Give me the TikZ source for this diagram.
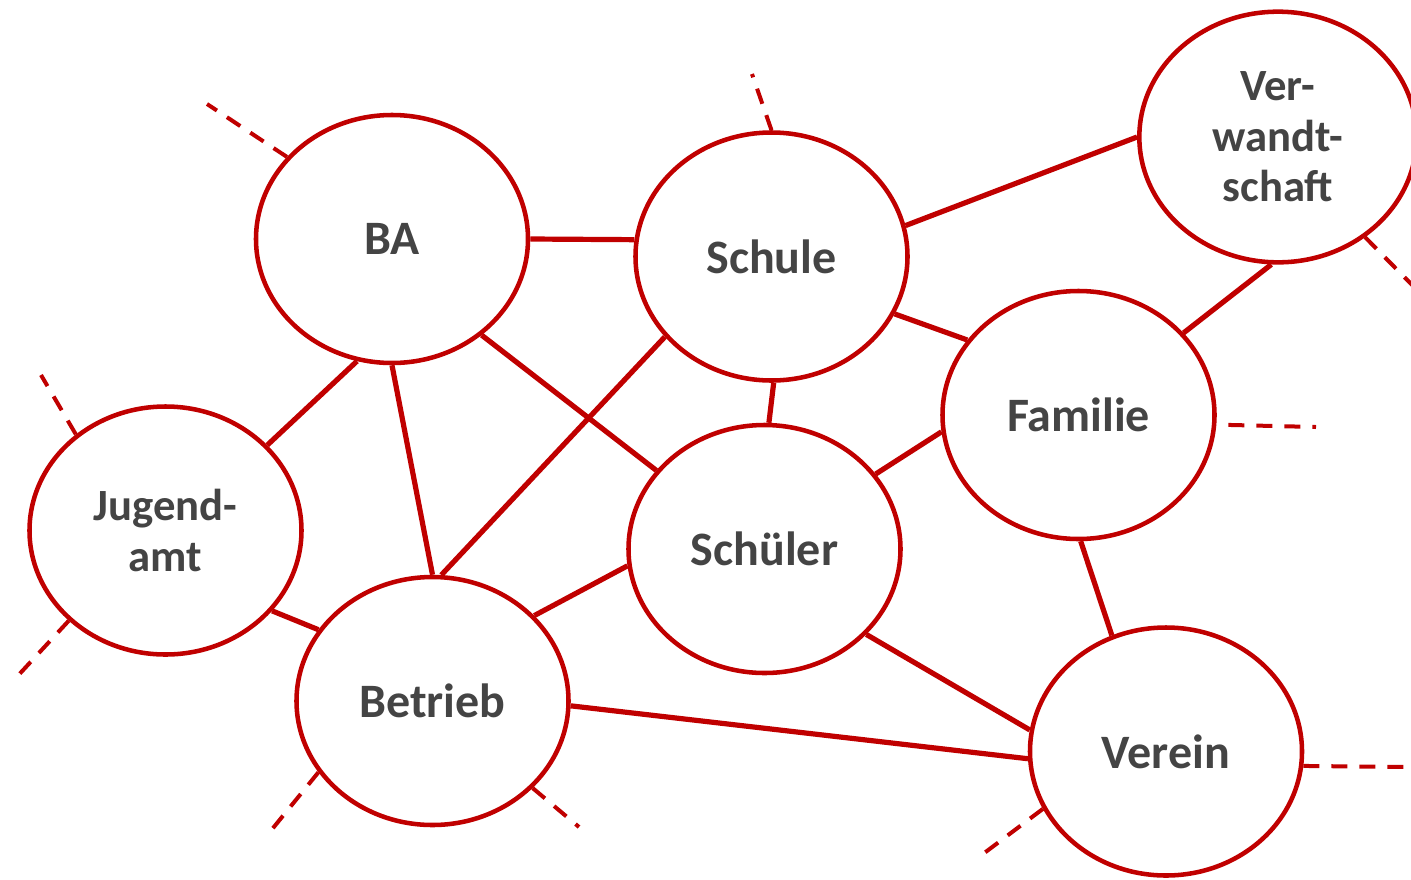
\documentclass[tikz,border=0pt]{standalone}
\usepackage{fontspec}
\setmainfont{Carlito}
\usetikzlibrary{shapes.geometric}

\definecolor{netred}{RGB}{192,0,0}
\definecolor{netgray}{RGB}{68,68,68}

\begin{document}
\begin{tikzpicture}[x=0.75pt,y=0.75pt,yscale=-1,xscale=1,
  partner/.style={ellipse,draw=netred,line width=3.4pt,minimum width=204pt,minimum height=186pt,inner sep=0pt,text=netgray,align=center,font=\bfseries\fontsize{36}{43}\selectfont},
  partnersmall/.style={partner,font=\bfseries\fontsize{33.5}{38}\selectfont},
  link/.style={draw=netred,line width=3.9pt},
  loose/.style={draw=netred,line width=3pt,dash pattern=on 12pt off 9pt}]
%set diagram size to 1411 x 879
\useasboundingbox (0,0) rectangle (1411,879);

% Partner nodes
\node [partner] (ba) at (392,239) {BA};
\node [partner] (schule) at (771.5,256.5) {Schule};
\node [partnersmall,minimum width=208pt,minimum height=188pt] (verw) at (1278,137) {Ver-\\wandt-\\schaft};
\node [partnersmall] (jugend) at (165.5,530.5) {Jugend-\\amt};
\node [partner] (familie) at (1078.5,415) {Familie};
\node [partner] (schueler) at (764.5,549) {Schüler};
\node [partner] (betrieb) at (432.5,701) {Betrieb};
\node [partner] (verein) at (1166,751.5) {Verein};

%Straight Lines
\draw [link] (ba.0) -- (schule.173);
\draw [link] (schule.13) -- (verw.180);
\draw [link] (ba.254) -- (jugend.40);
\draw [link] (ba.270) -- (betrieb.90);
\draw [link] (ba.313) -- (schueler.144);
\draw [link] (schule.217) -- (betrieb.86);
\draw [link] (schule.271) -- (schueler.88);
\draw [link] (schule.335) -- (familie.146);
\draw [link] (verw.267) -- (familie.38);
\draw [link] (schueler.34) -- (familie.187);
\draw [link] (jugend.323) -- (betrieb.148);
\draw [link] (betrieb.40) -- (schueler.187);
\draw [link] (schueler.320) -- (verein.171);
\draw [link] (betrieb.358) -- (verein.183);
\draw [link] (familie.271) -- (verein.115);

% Loose ends
\coordinate (baout) at (207,104);
\coordinate (schuleout) at (752,74);
\coordinate (verwout) at (1420,293);
\coordinate (jugendup) at (41,375);
\coordinate (jugenddown) at (13,681);
\coordinate (familieout) at (1316,427);
\coordinate (betriebleft) at (269,833);
\coordinate (betriebright) at (579,827);
\coordinate (vereinright) at (1405,767);
\coordinate (vereinleft) at (979,857);

%Dashed Lines
\draw [loose] (ba.142) -- (baout);
\draw [loose] (schule.90) -- (schuleout);
\draw [loose] (verw.311) -- (verwout);
\draw [loose] (jugend.133) -- (jugendup);
\draw [loose] (jugend.223) -- (jugenddown);
\draw [loose,dash phase=12pt] (familie.356) -- (familieout);
\draw [loose] (betrieb.212) -- (betriebleft);
\draw [loose] (betrieb.319) -- (betriebright);
\draw [loose] (verein.354) -- (vereinright);
\draw [loose] (verein.205) -- (vereinleft);

\end{tikzpicture}
\end{document}
